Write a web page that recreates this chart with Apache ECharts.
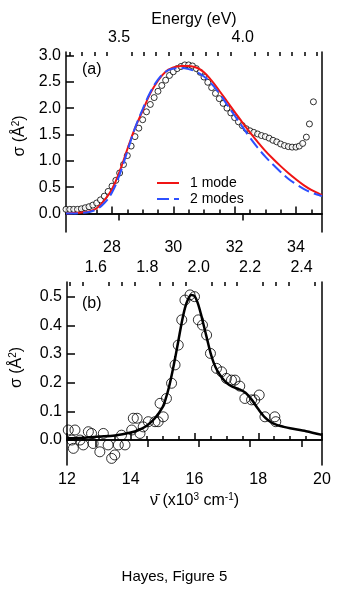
<!DOCTYPE html>
<html>
<head>
<meta charset="utf-8">
<script src="https://cdn.jsdelivr.net/npm/echarts@6/dist/echarts.min.js"></script>
<style>
  html, body { margin: 0; padding: 0; background: #fff; }
  #chart { width: 349px; height: 593px; }
</style>
</head>
<body>
<div id="chart"></div>
<script>
var EV = 8.0655; // 10^3 cm-1 per eV
var FONT = "'Liberation Sans', Arial, Helvetica, sans-serif";

// panel (a): absorption data, x in 10^3 cm-1
var aDataX = [26.5, 26.625, 26.75, 26.875, 27, 27.125, 27.25, 27.375, 27.5, 27.625, 27.75, 27.875,
  28, 28.125, 28.25, 28.375, 28.5, 28.625, 28.75, 28.875, 29, 29.125, 29.25, 29.375, 29.5, 29.625,
  29.75, 29.875, 30, 30.125, 30.25, 30.375, 30.5, 30.625, 30.75, 30.875, 31, 31.125, 31.25, 31.375,
  31.5, 31.625, 31.75, 31.875, 32, 32.125, 32.25, 32.375, 32.5, 32.625, 32.75, 32.875, 33, 33.125,
  33.25, 33.375, 33.5, 33.625, 33.75, 33.875, 34, 34.11, 34.22, 34.34, 34.44, 34.57];
var aDataY = [0.08, 0.08, 0.08, 0.08, 0.09, 0.11, 0.13, 0.16, 0.2, 0.26, 0.33, 0.42,
  0.52, 0.63, 0.77, 0.93, 1.1, 1.28, 1.46, 1.62, 1.78, 1.93, 2.07, 2.2, 2.32, 2.43,
  2.53, 2.62, 2.69, 2.75, 2.79, 2.82, 2.82, 2.8, 2.75, 2.68, 2.59, 2.49, 2.39, 2.28,
  2.18, 2.09, 2, 1.91, 1.82, 1.74, 1.67, 1.61, 1.57, 1.54, 1.51, 1.48, 1.46, 1.43,
  1.39, 1.36, 1.32, 1.29, 1.27, 1.26, 1.26, 1.28, 1.33, 1.45, 1.7, 2.12];

// panel (a): model curves
var aFitX = [26.5, 26.75, 27, 27.25, 27.5, 27.75, 28, 28.25, 28.5, 28.75, 29, 29.25, 29.5, 29.75,
  30, 30.25, 30.5, 30.75, 31, 31.25, 31.5, 31.75, 32, 32.25, 32.5, 32.75, 33, 33.25, 33.5, 33.75,
  34, 34.25, 34.5, 34.75, 34.85];
var aOneMode = [0, 0.01, 0.02, 0.04, 0.1, 0.25, 0.46, 0.8, 1.22, 1.62, 1.95, 2.28, 2.52, 2.69,
  2.77, 2.8, 2.8, 2.77, 2.68, 2.52, 2.33, 2.13, 1.93, 1.73, 1.54, 1.36, 1.19, 1.04, 0.9, 0.77,
  0.65, 0.54, 0.45, 0.38, 0.35];
var aTwoModes = [0, 0, 0.01, 0.03, 0.08, 0.2, 0.4, 0.74, 1.18, 1.62, 1.98, 2.3, 2.54, 2.69,
  2.75, 2.76, 2.74, 2.69, 2.6, 2.46, 2.28, 2.07, 1.86, 1.65, 1.44, 1.25, 1.08, 0.93, 0.79, 0.66,
  0.56, 0.47, 0.4, 0.35, 0.33];

// panel (b): data points
var bDataX = [12.04, 12.15, 12.2, 12.25, 12.41, 12.51, 12.67, 12.77, 12.82, 13.03, 13.14, 13.29,
  13.4, 13.5, 13.61, 13.71, 13.82, 14.03, 14.08, 14.2, 14.29, 14.39, 14.55, 14.76, 14.86, 14.92,
  15.02, 15.12, 15.28, 15.39, 15.49, 15.6, 15.7, 15.86, 16, 16.12, 16.25, 16.38, 16.5, 16.69,
  16.85, 17, 17.16, 17.27, 17.42, 17.58, 17.79, 17.89, 18.03, 18.21, 18.52, 18.55];
var bDataY = [0.035, 0, -0.029, 0.035, 0, -0.017, 0.029, 0.023, -0.012, -0.041, 0.023, -0.017,
  -0.064, -0.052, -0.017, 0.017, -0.017, 0.035, 0.076, 0.076, 0.023, 0.046, 0.064, 0.064, 0.064, 0.128,
  0.081, 0.145, 0.198, 0.262, 0.331, 0.419, 0.488, 0.506, 0.5, 0.419, 0.401, 0.366, 0.302, 0.25,
  0.238, 0.215, 0.209, 0.209, 0.188, 0.145, 0.14, 0.14, 0.157, 0.081, 0.081, 0.064];

// panel (b): fit
var bFitX = [12, 12.5, 13, 13.5, 14, 14.25, 14.5, 14.75, 15, 15.1, 15.2, 15.3, 15.4, 15.5, 15.6,
  15.7, 15.8, 15.9, 16, 16.1, 16.2, 16.3, 16.4, 16.5, 16.6, 16.7, 16.8, 16.9, 17, 17.2, 17.4,
  17.6, 17.8, 18, 18.2, 18.4, 18.6, 18.8, 19, 19.5, 20];
var bFitY = [0.006, 0.008, 0.012, 0.016, 0.026, 0.035, 0.05, 0.075, 0.115, 0.145, 0.185, 0.235,
  0.29, 0.35, 0.41, 0.46, 0.492, 0.506, 0.502, 0.478, 0.44, 0.395, 0.35, 0.305, 0.27, 0.245,
  0.227, 0.212, 0.2, 0.185, 0.177, 0.165, 0.14, 0.108, 0.08, 0.062, 0.052, 0.046, 0.041, 0.031,
  0.018];

// tick positions
var aXTicks = [28, 30, 32, 34];
var aXMinor = [27, 27.5, 28.5, 29, 29.5, 30.5, 31, 31.5, 32.5, 33, 33.5, 34.5];
var aEvTicks = [3.5, 4.0];
var aEvMinor = [3.3, 3.35, 3.4, 3.45, 3.55, 3.6, 3.65, 3.7, 3.75, 3.8, 3.85, 3.9, 3.95,
  4.05, 4.1, 4.15, 4.2, 4.25, 4.3];
var aYTicks = [0, 0.5, 1, 1.5, 2, 2.5, 3];
var bXTicks = [12, 14, 16, 18, 20];
var bXMinor = [12.5, 13, 13.5, 14.5, 15, 15.5, 16.5, 17, 17.5, 18.5, 19, 19.5];
var bEvTicks = [1.6, 1.8, 2.0, 2.2, 2.4];
var bEvMinor = [1.5, 1.55, 1.65, 1.7, 1.75, 1.85, 1.9, 1.95, 2.05, 2.1, 2.15, 2.25, 2.3, 2.35, 2.45];
var bYTicks = [0, 0.1, 0.2, 0.3, 0.4, 0.5];

var A = { xmin: 26.5, xmax: 34.85, ymin: -0.35, ymax: 3.065 };
var B = { xmin: 12, xmax: 20, ymin: -0.087, ymax: 0.551 };

function pairs(xs, ys) {
  return xs.map(function (x, i) { return [x, ys[i]]; });
}

var lineStyle = { color: "#000", width: 1.5 };
var labelStyle = { color: "#000", fontSize: 16, fontFamily: FONT };
var supRich = {
  sup: { fontSize: 10, verticalAlign: "top", fontFamily: FONT, color: "#000", padding: [0, 0, 8, 0] }
};

function axis(o) {
  var ticks = o.ticks || [];
  return {
    type: "value",
    gridIndex: o.grid,
    position: o.pos,
    min: o.min,
    max: o.max,
    show: o.show !== false,
    name: o.name || "",
    nameLocation: "middle",
    nameGap: o.nameGap || 0,
    nameTextStyle: o.nameStyle || {},
    axisLine: { show: o.line !== false, lineStyle: lineStyle },
    axisTick: {
      show: ticks.length > 0,
      inside: true,
      length: o.tickLen || 7,
      customValues: ticks,
      lineStyle: lineStyle,
    },
    axisLabel: {
      show: !!o.labels,
      customValues: ticks,
      margin: o.margin || 6,
      formatter: o.fmt || function (v) { return String(v); },
      color: "#000",
      fontSize: 16,
      fontFamily: FONT,
    },
    splitLine: { show: false },
  };
}

function fix1(v) { return v.toFixed(1); }

var myChart = echarts.init(document.getElementById("chart"));
var option = {
  backgroundColor: "#fff",
  animation: false,
  grid: [
    { left: 66, top: 52, width: 256, height: 180 },
    { left: 67, top: 282, width: 255, height: 183 },
    { left: 66, top: 52, width: 256, height: 180 }, // minor ticks of (a)
    { left: 67, top: 282, width: 255, height: 183 }, // minor ticks of (b)
  ],
  xAxis: [
    axis({ grid: 0, pos: "bottom", min: A.xmin, max: A.xmax, ticks: aXTicks, labels: true, margin: 8 }),
    axis({ grid: 0, pos: "top", min: A.xmin / EV, max: A.xmax / EV, ticks: aEvTicks, labels: true,
      fmt: fix1, name: "Energy (eV)", nameGap: 24, nameStyle: labelStyle }),
    axis({ grid: 1, pos: "bottom", min: B.xmin, max: B.xmax, ticks: bXTicks, labels: true, margin: 7,
      name: "\u03bd\u0304 (x10{sup|3} cm{sup|-1})", nameGap: 27,
      nameStyle: { color: "#000", fontSize: 16, fontFamily: FONT, rich: supRich } }),
    axis({ grid: 1, pos: "top", min: B.xmin / EV, max: B.xmax / EV, ticks: bEvTicks, labels: true, fmt: fix1 }),
    axis({ grid: 2, pos: "bottom", min: A.xmin, max: A.xmax, ticks: aXMinor, tickLen: 4, line: false }),
    axis({ grid: 2, pos: "top", min: A.xmin / EV, max: A.xmax / EV, ticks: aEvMinor, tickLen: 4, line: false }),
    axis({ grid: 3, pos: "bottom", min: B.xmin, max: B.xmax, ticks: bXMinor, tickLen: 4, line: false }),
    axis({ grid: 3, pos: "top", min: B.xmin / EV, max: B.xmax / EV, ticks: bEvMinor, tickLen: 4, line: false }),
  ],
  yAxis: [
    axis({ grid: 0, pos: "left", min: A.ymin, max: A.ymax, ticks: aYTicks, labels: true, fmt: fix1, tickLen: 8,
      margin: 5, name: "\u03c3 (\u00c5{sup|2})", nameGap: 33,
      nameStyle: { color: "#000", fontSize: 16, fontFamily: FONT, rich: supRich, padding: [0, 0, 0, 12] } }),
    axis({ grid: 0, pos: "right", min: A.ymin, max: A.ymax }),
    axis({ grid: 1, pos: "left", min: B.ymin, max: B.ymax, ticks: bYTicks, labels: true, fmt: fix1, tickLen: 8,
      margin: 5, name: "\u03c3 (\u00c5{sup|2})", nameGap: 41,
      nameStyle: { color: "#000", fontSize: 16, fontFamily: FONT, rich: supRich, padding: [0, 0, 0, 12] } }),
    axis({ grid: 1, pos: "right", min: B.ymin, max: B.ymax }),
    axis({ grid: 2, pos: "left", min: A.ymin, max: A.ymax, show: false }),
    axis({ grid: 3, pos: "left", min: B.ymin, max: B.ymax, show: false }),
  ],
  legend: {
    orient: "vertical",
    left: 151,
    top: 171,
    itemWidth: 22,
    itemHeight: 10,
    itemGap: 2,
    itemStyle: { opacity: 0 },
    data: ["1 mode", "2 modes"],
    textStyle: { color: "#000", fontSize: 14, fontFamily: FONT, padding: [0, 0, 0, 6] },
  },
  graphic: [
    { type: "text", left: 82, top: 62, style: { text: "(a)", fontSize: 16, fontFamily: FONT, fill: "#000" } },
    { type: "text", left: 82, top: 296, style: { text: "(b)", fontSize: 16, fontFamily: FONT, fill: "#000" } },
    { type: "text", left: "center", top: 569, style: { text: "Hayes, Figure 5", fontSize: 15, fontFamily: FONT, fill: "#000" } },
  ],
  series: [
    {
      name: "data a",
      type: "scatter",
      xAxisIndex: 0,
      yAxisIndex: 0,
      symbol: "circle",
      symbolSize: 6,
      itemStyle: { color: "#fff", borderColor: "#000", borderWidth: 1 },
      data: pairs(aDataX, aDataY),
      z: 2,
    },
    {
      name: "1 mode",
      type: "line",
      xAxisIndex: 0,
      yAxisIndex: 0,
      symbol: "none",
      smooth: 0.4,
      lineStyle: { color: "#f01414", width: 2 },
      itemStyle: { color: "#f01414" },
      data: pairs(aFitX, aOneMode),
      z: 3,
    },
    {
      name: "2 modes",
      type: "line",
      xAxisIndex: 0,
      yAxisIndex: 0,
      symbol: "none",
      smooth: 0.4,
      lineStyle: { color: "#2d50ff", width: 2, type: [12, 5] },
      itemStyle: { color: "#2d50ff" },
      data: pairs(aFitX, aTwoModes),
      z: 3,
    },
    {
      name: "data b",
      type: "scatter",
      xAxisIndex: 2,
      yAxisIndex: 2,
      symbol: "circle",
      symbolSize: 10,
      itemStyle: { color: "rgba(255,255,255,0)", borderColor: "#000", borderWidth: 1 },
      data: pairs(bDataX, bDataY),
      z: 2,
    },
    {
      name: "fit b",
      type: "line",
      xAxisIndex: 2,
      yAxisIndex: 2,
      symbol: "none",
      smooth: 0.3,
      lineStyle: { color: "#000", width: 2.5 },
      data: pairs(bFitX, bFitY),
      z: 3,
    },
  ],
};
myChart.setOption(option);
</script>
</body>
</html>
